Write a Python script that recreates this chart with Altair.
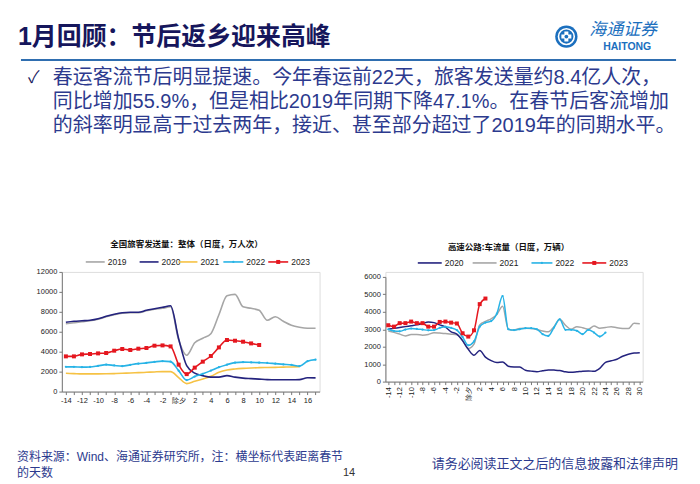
import altair as alt
import pandas as pd

# ---------------- data ----------------
YEARS_L = ["2019", "2020", "2021", "2022", "2023"]
DAYS_L_2019 = list(range(-14, 18))
VAL_L_2019 = [6800, 6900, 7000, 7100, 7250, 7500, 7700, 7850, 7900, 7900, 8100, 8250, 8350, 8500,
              5200, 3650, 4900, 5350, 5800, 7700, 9600, 9750, 8500, 8350, 8150, 7150, 7500, 7050,
              6650, 6450, 6350, 6350]
DAYS_L_2020 = list(range(-14, 18))
VAL_L_2020 = [6950, 7050, 7100, 7150, 7300, 7550, 7750, 7900, 7950, 7950, 8150, 8300, 8450, 8600,
              5300, 2600, 1850, 1600, 1450, 1450, 1600, 1450, 1350, 1300, 1250, 1200, 1180, 1180,
              1180, 1200, 1380, 1370]
DAYS_L_2021 = list(range(-14, 16))
VAL_L_2021 = [1830, 1800, 1770, 1770, 1770, 1780, 1800, 1830, 1870, 1900, 1930, 1970, 2000, 2000,
              1400, 800, 1030, 1270, 1530, 1930, 2170, 2270, 2330, 2370, 2400, 2420, 2430, 2450,
              2470, 2500]
DAYS_L_2022 = list(range(-14, 18))
VAL_L_2022 = [2480, 2480, 2450, 2470, 2580, 2700, 2620, 2550, 2680, 2800, 2880, 2980, 3050, 3000,
              2100, 1150, 1500, 1780, 2100, 2450, 2700, 2900, 2950, 2930, 2900, 2870, 2800, 2730,
              2680, 2550, 3050, 3200]
DAYS_L_2023 = list(range(-14, 11))
VAL_L_2023 = [3530, 3530, 3730, 3770, 3830, 3870, 4100, 4270, 4170, 4300, 4370, 4600, 4630, 4530,
              2700, 1750, 2400, 3000, 3570, 4430, 5170, 5100, 5000, 4830, 4670]

DAYS_R_2020 = list(range(-14, 31))
VAL_R_2020 = [3000, 3050, 3100, 3150, 3200, 3250, 3330, 3420, 3380, 3250, 3120, 2850, 2720, 2350,
              1850, 1510, 1780, 1400, 1200, 1090, 1130, 880, 840, 830, 650, 600, 570, 620, 670,
              660, 640, 560, 530, 560, 600, 610, 590, 760, 1100, 1190, 1280, 1450, 1570, 1640, 1660]
DAYS_R_2021 = list(range(-14, 31))
VAL_R_2021 = [2900, 2820, 2720, 2620, 2700, 2700, 2660, 2700, 2800, 2780, 2750, 2720, 2680, 2350,
              1900, 2150, 3250, 3450, 3600, 3850, 4320, 3000, 2950, 3050, 3060, 3040, 2980, 2900,
              2850, 3150, 3570, 3230, 3000, 3150, 3090, 3000, 3190, 3060, 3100, 3150, 3090, 3050,
              3040, 3340, 3320]
DAYS_R_2022 = list(range(-14, 25))
VAL_R_2022 = [3000, 2900, 2880, 2980, 3040, 3020, 2980, 2940, 2950, 3080, 3150, 3080, 2950, 2560,
              2080, 2300, 3150, 3380, 3470, 3900, 4900, 3000, 2950, 3000, 3060, 3060, 3000, 2720,
              2620, 3100, 3570, 2970, 2970, 2910, 2720, 2970, 2810, 2580, 2810]
DAYS_R_2023 = list(range(-14, 4))
VAL_R_2023 = [3230, 3150, 3350, 3350, 3440, 3350, 3350, 3150, 3150, 3420, 3440, 3380, 3330, 2770,
              2580, 2940, 4440, 4760]

LEFT_Y_TICKS = [0, 2000, 4000, 6000, 8000, 10000, 12000]
RIGHT_Y_TICKS = [0, 1000, 2000, 3000, 4000, 5000, 6000]

TITLE = "1月回顾：节后返乡迎来高峰"
BULLETS = [
    "春运客流节后明显提速。今年春运前22天，旅客发送量约8.4亿人次，",
    "同比增加55.9%，但是相比2019年同期下降47.1%。在春节后客流增加",
    "的斜率明显高于过去两年，接近、甚至部分超过了2019年的同期水平。",
]
LEFT_TITLE = "全国旅客发送量：整体（日度，万人次）"
RIGHT_TITLE = "高速公路:车流量（日度，万辆）"
SOURCE_1 = "资料来源：Wind、海通证券研究所，注：横坐标代表距离春节"
SOURCE_2 = "的天数"
PAGE_NO = "14"
DISCLAIMER = "请务必阅读正文之后的信息披露和法律声明"

# ---------------- styles ----------------
CJK = "Noto Sans CJK SC"
MIX = "Liberation Sans, Noto Sans CJK SC"
SANS = "Liberation Sans"
C_GRAY = "#A6A6A6"
C_NAVY = "#24237E"
C_YEL = "#F6C244"
C_CYAN = "#27B3E6"
C_RED = "#E5171F"
C_TITLE = "#16165C"
C_TEXT = "#2C3A8E"
C_LOGO = "#1B6FBE"

LX, LY = 61.0, 271.0          # left plot origin on the page
W_L, H_L = 258.5, 120
W_R, H_R = 258.0, 110
GAP = 65.5

ONE = pd.DataFrame({"k": [0]})


def P(x):
    return x - LX


def Q(y):
    return y - LY


def text(s, x, y, size, color, weight="normal", align="left", font=CJK, style="normal"):
    return alt.Chart(ONE).mark_text(
        text=s, align=align, baseline="middle", fontSize=size, fontWeight=weight,
        font=font, color=color, fontStyle=style
    ).encode(x=alt.value(P(x)), y=alt.value(Q(y)))


def hrule(x1, x2, y, color, w):
    return alt.Chart(ONE).mark_rule(color=color, strokeWidth=w).encode(
        x=alt.value(P(x1)), x2=alt.value(P(x2)), y=alt.value(Q(y)))


def dot(x, y, size, color, shape="circle", filled=True, sw=1):
    if filled:
        m = alt.Chart(ONE).mark_point(shape=shape, filled=True, size=size, color=color, opacity=1)
    else:
        m = alt.Chart(ONE).mark_point(shape=shape, filled=False, size=size, color=color,
                                      strokeWidth=sw, opacity=1)
    return m.encode(x=alt.value(P(x)), y=alt.value(Q(y)))


def frame(days, vals):
    return pd.DataFrame({"day": days, "v": vals})


# ---------------- left chart ----------------
XL = alt.X("day:Q", scale=alt.Scale(domain=[-14.5, 17.5], nice=False, zero=False),
           axis=alt.Axis(values=list(range(-14, 18)), grid=False, title=None,
                         labelExpr="datum.value == 0 ? '除夕' : (datum.value % 2 == 0 ? '' + datum.value : '')",
                         labelFont=SANS, labelFontSize=7.5, labelColor="#222", labelPadding=2,
                         labelOverlap=False, labelFlush=False, tickSize=3, tickColor="#777",
                         domainColor="#777"))
YL = alt.Y("v:Q", scale=alt.Scale(domain=[0, 12000], nice=False),
           axis=alt.Axis(values=LEFT_Y_TICKS, format="d", grid=False, title=None,
                         labelFont=SANS, labelFontSize=7.5, labelColor="#222", labelPadding=2,
                         tickSize=3, tickColor="#777", domainColor="#777"))


def series(days, vals, color, X, Y, width=1.6, marker=None, msize=0):
    df = frame(days, vals)
    layers = [alt.Chart(df).mark_line(color=color, strokeWidth=width, interpolate="monotone")
              .encode(x=X, y=Y)]
    if marker:
        layers.append(alt.Chart(df).mark_point(shape=marker, filled=True, size=msize,
                                               color=color, opacity=1).encode(x=X, y=Y))
    return layers


canvas = alt.Chart(ONE).mark_rect(fill="white", opacity=0).encode(
    x=alt.value(P(8)), x2=alt.value(P(692)), y=alt.value(Q(8)), y2=alt.value(Q(476)))

deco = [canvas]
# header
deco.append(text(TITLE, 17, 35, 25, C_TITLE, weight="bold", font=MIX))
deco.append(hrule(20, 677, 58.5, "#2F6EB0", 2))
deco.append(dot(567, 35, 500, C_LOGO))
deco.append(dot(567, 35, 250, "white", filled=False, sw=1.6))
deco.append(dot(567, 35, 100, "white", shape="cross"))
deco.append(dot(567, 35, 14, C_LOGO))
deco.append(text("海通证券", 590, 28.5, 17, C_LOGO, style="italic"))
deco.append(text("HAITONG", 628, 45, 10.5, C_LOGO, weight="bold", align="center", font=SANS))
deco.append(text("✓", 27, 77, 17, C_TITLE))
for i, line in enumerate(BULLETS):
    deco.append(text(line, 52, 77 + 24 * i, 20, C_TEXT, font=MIX))
# chart titles
deco.append(text(LEFT_TITLE, 186, 243, 8.5, "#111", weight="bold", align="center"))
deco.append(text(RIGHT_TITLE, 509, 246, 8.5, "#111", weight="bold", align="center"))
# legends
LEG_L = [("2019", C_GRAY, 85, 104, None), ("2020", C_NAVY, 139, 158, None),
         ("2021", C_YEL, 178, 197, None), ("2022", C_CYAN, 223, 243, "circle"),
         ("2023", C_RED, 268, 288, "square")]
LEG_R = [("2020", C_NAVY, 418, 442, None), ("2021", C_GRAY, 473, 497, None),
         ("2022", C_CYAN, 532, 553, "circle"), ("2023", C_RED, 583, 607, "square")]
for items, ly in ((LEG_L, 261), (LEG_R, 262)):
    for lab, col, x1, x2, mk in items:
        deco.append(hrule(x1, x2, ly, col, 1.6))
        if mk == "square":
            deco.append(dot((x1 + x2) / 2, ly, 16, col, shape="square"))
        elif mk == "circle":
            deco.append(dot((x1 + x2) / 2, ly, 5, col))
        deco.append(text(lab, x2 + 3, ly, 8.5, "#222", font=SANS))
# footer
deco.append(text(SOURCE_1, 16, 457, 12, C_TEXT, font=MIX))
deco.append(text(SOURCE_2, 16, 473, 12, C_TEXT))
deco.append(text(PAGE_NO, 349, 473, 11, "#333", align="center", font=SANS))
deco.append(text(DISCLAIMER, 432, 464, 13, C_TEXT))

left_layers = []
left_layers += series(DAYS_L_2019, VAL_L_2019, C_GRAY, XL, YL)
left_layers += series(DAYS_L_2021, VAL_L_2021, C_YEL, XL, YL)
left_layers += series(DAYS_L_2020, VAL_L_2020, C_NAVY, XL, YL)
left_layers += series(DAYS_L_2022, VAL_L_2022, C_CYAN, XL, YL, marker="circle", msize=5)
left_layers += series(DAYS_L_2023, VAL_L_2023, C_RED, XL, YL, marker="square", msize=16)

left = alt.layer(*deco, *left_layers).properties(width=W_L, height=H_L)

# ---------------- right chart ----------------
XR = alt.X("day:Q", scale=alt.Scale(domain=[-14.5, 30.5], nice=False, zero=False),
           axis=alt.Axis(values=list(range(-14, 31)), grid=False, title=None, labelAngle=-90,
                         labelExpr="datum.value == 0 ? '除夕' : (datum.value % 2 == 0 ? '' + datum.value : '')",
                         labelFont=SANS, labelFontSize=7.5, labelColor="#222", labelPadding=2,
                         labelOverlap=False, labelFlush=False, tickSize=3, tickColor="#777",
                         domainColor="#777"))
YR = alt.Y("v:Q", scale=alt.Scale(domain=[0, 6000], range=[H_R, 5], nice=False),
           axis=alt.Axis(values=RIGHT_Y_TICKS, format="d", grid=False, title=None,
                         labelFont=SANS, labelFontSize=7.5, labelColor="#222", labelPadding=2,
                         tickSize=3, tickColor="#777", domainColor="#777"))

right_layers = []
right_layers += series(DAYS_R_2021, VAL_R_2021, C_GRAY, XR, YR, width=1.5)
right_layers += series(DAYS_R_2020, VAL_R_2020, C_NAVY, XR, YR, width=1.5)
right_layers += series(DAYS_R_2022, VAL_R_2022, C_CYAN, XR, YR, width=1.5, marker="circle", msize=5)
right_layers += series(DAYS_R_2023, VAL_R_2023, C_RED, XR, YR, width=1.5, marker="square", msize=16)

right = alt.layer(*right_layers).properties(width=W_R, height=H_R)

chart = alt.hconcat(left, right, spacing=GAP, bounds="flush").properties(
    padding=0
).configure_view(stroke="transparent").configure(background="white")

chart.save("out.html", embed_options={"renderer": "svg", "actions": False})
